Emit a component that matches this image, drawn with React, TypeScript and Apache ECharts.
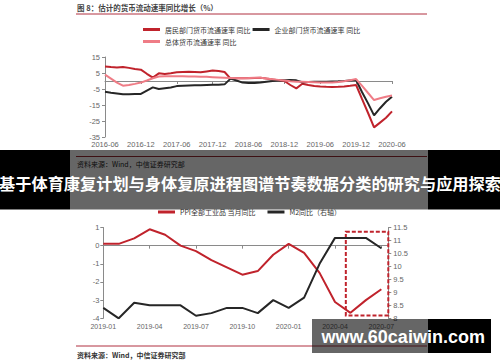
import React, { useEffect, useRef } from 'react';
import * as echarts from 'echarts';

// ---------- Top chart: estimated money velocity YoY (%), monthly 2016-06 .. 2020-06 ----------
const topTickLabels = ['2016-06', '2016-12', '2017-06', '2017-12', '2018-06', '2018-12', '2019-06', '2019-12', '2020-06'];
const householdVelocity = [
  9.0, 8.7, 8.5, 8.8, 8.2, 7.5, 7.1, 4.5, 2.1, 4.8, 4.4, 4.8,
  5.4, 5.6, 5.8, 5.6, 5.4, 6.0, 6.5, 6.2, 5.6, 1.5, 1.7, 1.7,
  1.7, 1.9, 2.1, 1.5, 1.0, 0.5, 0.0, -2.5, -4.6, -1.7, -2.5, -3.1,
  -3.4, -3.6, -3.75, -3.6, -3.4, -3.0, -2.5, -11.3, -20.0, -29.0, -26.0, -23.0,
  -19.0,
];
const corporateVelocity = [
  -6.7, -7.3, -7.8, -8.3, -8.3, -8.2, -8.1, -6.0, -4.0, -5.0, -4.5, -4.0,
  -3.2, -2.9, -2.8, -2.7, -2.6, -2.5, -2.4, -2.3, -2.1, 1.5, 0.3, -1.0,
  -1.2, -1.2, -1.0, -0.5, 0.0, 0.3, 0.5, 0.6, 0.4, -0.8, -0.6, -0.5,
  -0.4, -0.4, -0.3, -0.2, 0.0, 0.3, 0.6, -7.0, -14.0, -21.5, -17.0, -13.0,
  -9.8,
];
const totalVelocity = [
  4.0, 1.5, -1.0, -2.9, -2.5, -1.8, -1.0, 0.3, 1.7, 2.8, 3.0, 3.0,
  2.9, 2.9, 2.8, 2.8, 2.7, 2.6, 2.4, 2.2, 2.0, 1.8, 1.7, 1.7,
  1.8, 2.0, 2.1, 1.6, 1.1, 0.7, 0.3, -0.2, -0.4, -0.4, -0.6, -0.8,
  -1.0, -1.0, -0.9, -0.6, -0.2, 0.5, 1.2, -3.0, -7.5, -11.9, -10.8, -9.8,
  -9.0,
];

// ---------- Bottom chart: PPI YoY (left) and M2 YoY (right), monthly 2019-01 .. 2020-07 ----------
const bottomTickLabels = ['2019-01', '2019-04', '2019-07', '2019-10', '2020-01', '2020-04', '2020-07'];
const ppiYoY = [0.1, 0.1, 0.4, 0.9, 0.6, 0.0, -0.3, -0.8, -1.2, -1.6, -1.4, -0.5, 0.1, -0.4, -1.5, -3.1, -3.7, -3.0, -2.4];
const m2YoY = [8.4, 8.0, 8.6, 8.5, 8.5, 8.5, 8.1, 8.2, 8.4, 8.4, 8.2, 8.7, 8.4, 8.8, 10.1, 11.1, 11.1, 11.1, 10.7];
const highlightX = [15.7, 18.45];
const highlightY = [0.77, -3.84];

const NAME_H = '居民部门货币流通速率 同比';
const NAME_C = '企业部门货币流通速率 同比';
const NAME_T = '总体货币流通速率 同比';
const NAME_PPI = 'PPI全部工业品 当月同比';
const NAME_M2 = 'M2同比（右轴）';

const FONT = "'Liberation Sans', 'Noto Sans CJK SC', sans-serif";
const CJK = "'Noto Sans CJK SC', sans-serif";
const RED = '#c0232c';
const BLACK = '#262626';
const PINK = '#ef7c86';
const AXIS = '#8a8a8a';
const LABEL = '#666';

const toPairs = (arr: number[]) => arr.map((v, i) => [i, v]);

export default function App() {
  const ref = useRef<HTMLDivElement>(null);

  useEffect(() => {
    if (!ref.current) return;
    const chart = echarts.init(ref.current, undefined, { renderer: 'svg' });

    const legendBase = {
      padding: 0,
      itemWidth: 17,
      itemHeight: 3,
      icon: 'rect',
      textStyle: { fontSize: 7, color: '#333', fontFamily: CJK },
    };

    const option: any = {
      animation: false,
      backgroundColor: '#ffffff',
      textStyle: { fontFamily: FONT },
      legend: [
        { ...legendBase, left: 143, top: 26, itemGap: 2, data: [NAME_H, NAME_C] },
        { ...legendBase, left: 143, top: 38, data: [NAME_T] },
        { ...legendBase, left: 158, top: 208.5, itemGap: 12, data: [NAME_PPI, NAME_M2] },
      ],
      grid: [
        { left: 105, right: 108, top: 57, bottom: 225 },
        { left: 103.3, right: 111.7, top: 227.5, bottom: 43.7 },
      ],
      xAxis: [
        {
          gridIndex: 0, type: 'value', min: 0, max: 48, interval: 6,
          axisLine: { show: false, onZero: false }, axisTick: { show: false }, splitLine: { show: false },
          axisLabel: {
            margin: 4, fontSize: 7.5, color: LABEL,
            formatter: (v: number) => (v % 6 === 0 ? topTickLabels[v / 6] ?? '' : ''),
          },
        },
        {
          gridIndex: 0, type: 'value', min: 0, max: 48, interval: 6, position: 'top',
          axisLine: { show: true, onZero: true, lineStyle: { color: AXIS, width: 1 } },
          axisTick: { show: true, inside: true, length: 3, lineStyle: { color: AXIS } },
          axisLabel: { show: false }, splitLine: { show: false },
        },
        {
          gridIndex: 1, type: 'value', min: 0, max: highlightX[1], interval: 3,
          axisLine: { show: false, onZero: false }, axisTick: { show: false }, splitLine: { show: false },
          axisLabel: {
            margin: 5, fontSize: 7, color: LABEL,
            formatter: (v: number) => (v % 3 === 0 ? bottomTickLabels[v / 3] ?? '' : ''),
          },
        },
        {
          gridIndex: 1, type: 'value', min: 0, max: highlightX[1], interval: 3, position: 'top',
          axisLine: { show: true, onZero: true, lineStyle: { color: AXIS, width: 1 } },
          axisTick: { show: true, inside: true, length: 3, lineStyle: { color: AXIS } },
          axisLabel: { show: false }, splitLine: { show: false },
        },
      ],
      yAxis: [
        {
          gridIndex: 0, type: 'value', min: -35, max: 15, interval: 10,
          axisLine: { show: true, onZero: false, lineStyle: { color: AXIS } },
          axisTick: { show: true, length: 3, lineStyle: { color: AXIS } },
          splitLine: { show: false },
          axisLabel: { margin: 5, fontSize: 7.5, color: LABEL },
        },
        {
          gridIndex: 1, type: 'value', min: -4, max: 1, interval: 1,
          axisLine: { show: true, onZero: false, lineStyle: { color: AXIS } },
          axisTick: { show: true, length: 3, lineStyle: { color: AXIS } },
          splitLine: { show: false },
          axisLabel: { margin: 4, fontSize: 7.5, color: LABEL },
        },
        {
          gridIndex: 1, type: 'value', position: 'right', min: 8, max: 11.5, interval: 0.5,
          axisLine: { show: true, onZero: false, lineStyle: { color: AXIS } },
          axisTick: { show: true, length: 3, lineStyle: { color: AXIS } },
          splitLine: { show: false },
          axisLabel: { margin: 5, fontSize: 7.5, color: LABEL },
        },
      ],
      series: [
        {
          name: NAME_H, type: 'line', xAxisIndex: 0, yAxisIndex: 0, data: toPairs(householdVelocity),
          showSymbol: false, lineStyle: { width: 2, color: RED }, itemStyle: { color: RED },
        },
        {
          name: NAME_C, type: 'line', xAxisIndex: 0, yAxisIndex: 0, data: toPairs(corporateVelocity),
          showSymbol: false, lineStyle: { width: 2, color: BLACK }, itemStyle: { color: BLACK },
        },
        {
          name: NAME_T, type: 'line', xAxisIndex: 0, yAxisIndex: 0, data: toPairs(totalVelocity),
          showSymbol: false, lineStyle: { width: 2, color: PINK }, itemStyle: { color: PINK },
        },
        {
          name: NAME_PPI, type: 'line', xAxisIndex: 2, yAxisIndex: 1, data: toPairs(ppiYoY),
          showSymbol: false, lineStyle: { width: 2, color: RED }, itemStyle: { color: RED },
          markArea: {
            silent: true,
            itemStyle: { color: 'rgba(0,0,0,0)', borderColor: RED, borderWidth: 2, borderType: [4, 2] },
            data: [[{ xAxis: highlightX[0], yAxis: highlightY[0] }, { xAxis: highlightX[1], yAxis: highlightY[1] }]],
          },
        },
        {
          name: NAME_M2, type: 'line', xAxisIndex: 2, yAxisIndex: 2, data: toPairs(m2YoY),
          showSymbol: false, lineStyle: { width: 2, color: BLACK }, itemStyle: { color: BLACK },
        },
      ],
      graphic: [
        {
          type: 'text', left: 77, top: 4, z: 10,
          style: { text: '图 8：估计的货币流动速率同比增长（%）', fontSize: 7.5, fontWeight: 'bold', fill: '#444', fontFamily: CJK },
        },
        { type: 'line', z: 10, shape: { x1: 76, y1: 14, x2: 427, y2: 14 }, style: { stroke: '#b03040', lineWidth: 1 } },
        { type: 'line', z: 10, shape: { x1: 76, y1: 156.5, x2: 427, y2: 156.5 }, style: { stroke: '#9a2a30', lineWidth: 1 } },
        {
          type: 'text', left: 77, top: 160, z: 10,
          style: { text: '资料来源：Wind，中信证券研究部', fontSize: 7, fill: '#222', fontFamily: CJK },
        },
        { type: 'line', z: 10, shape: { x1: 76, y1: 346, x2: 427, y2: 346 }, style: { stroke: '#b03040', lineWidth: 1 } },
        {
          type: 'text', left: 77, top: 351, z: 10,
          style: { text: '资料来源：Wind，中信证券研究部', fontSize: 7, fontWeight: 'bold', fill: '#333', fontFamily: CJK },
        },
        // caption band
        { type: 'rect', z: 100, shape: { x: 0, y: 150, width: 70, height: 59.5 }, style: { fill: '#000' } },
        { type: 'rect', z: 100, shape: { x: 70, y: 150, width: 358, height: 59.5 }, style: { fill: 'rgba(0,0,0,0.6)' } },
        { type: 'rect', z: 100, shape: { x: 428, y: 150, width: 72, height: 59.5 }, style: { fill: '#000' } },
        {
          type: 'text', z: 101, x: 250, y: 182.5,
          style: {
            text: '基于体育康复计划与身体复原进程图谱节奏数据分类的研究与应用探索',
            fontSize: 16.2, fontWeight: 'bold', fill: '#fff', fontFamily: CJK,
            align: 'center', verticalAlign: 'middle',
          },
        },
        // watermark
        { type: 'rect', z: 100, shape: { x: 312, y: 319, width: 116, height: 34 }, style: { fill: 'rgba(0,0,0,0.6)' } },
        { type: 'rect', z: 100, shape: { x: 428, y: 319, width: 63, height: 34 }, style: { fill: '#000' } },
        {
          type: 'text', z: 101, x: 321.5, y: 336.5,
          style: {
            text: 'www.60caiwin.com', fontSize: 18, fontWeight: 'bold', fill: '#fff',
            fontFamily: "'Liberation Sans', sans-serif", align: 'left', verticalAlign: 'middle',
          },
        },
      ],
    };

    chart.setOption(option);
    return () => chart.dispose();
  }, []);

  return <div ref={ref} style={{ position: 'fixed', left: 0, top: 0, width: 500, height: 362 }} />;
}
